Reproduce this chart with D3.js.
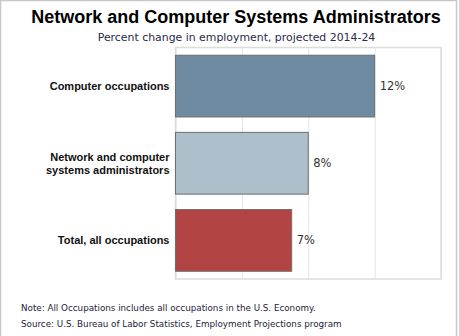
<!DOCTYPE html>
<html>
<head>
<meta charset="utf-8">
<script src="https://cdn.jsdelivr.net/npm/d3@7"></script>
<style>
  html, body { margin: 0; padding: 0; background: #fff; }
  svg { display: block; }
</style>
</head>
<body>
<svg id="chart" width="459" height="336"></svg>
<script>
// Projected employment change, 2014-24
const categories = ["Computer occupations", "Network and computer\nsystems administrators", "Total, all occupations"];
const values = [12, 8, 7];
const barColors = ["#6f8ba2", "#adbfcb", "#b34444"];
const tickValues = [0, 4, 8, 12, 16];

const svg = d3.select("#chart");
const W = 459, H = 336;
const margin = { left: 175.5, right: 18, top: 47.5, bottom: 57 };

// outer frame
svg.append("rect")
  .attr("x", 0.5).attr("y", 0.5)
  .attr("width", 456).attr("height", H + 5)
  .attr("fill", "none").attr("stroke", "#c8c8c8").attr("stroke-width", 1.5);

const x = d3.scaleLinear().domain([0, 16]).range([margin.left, W - margin.right]);
const y = d3.scaleBand().domain(categories).range([margin.top, H - margin.bottom])
  .paddingInner(0.2).paddingOuter(0.1);

// plot frame and vertical gridlines
svg.append("g")
  .attr("transform", `translate(0,${H - margin.bottom})`)
  .call(d3.axisBottom(x).tickValues(tickValues).tickSize(-(H - margin.bottom - margin.top)).tickFormat(""))
  .call(g => g.select(".domain").remove())
  .call(g => g.selectAll(".tick line").attr("stroke", "#e4e4e4"));

svg.append("rect")
  .attr("x", x(0)).attr("y", margin.top)
  .attr("width", x(16) - x(0)).attr("height", H - margin.bottom - margin.top)
  .attr("fill", "none").attr("stroke", "#dcdcdc").attr("stroke-width", 1.5);

// bars
svg.append("g").selectAll("rect")
  .data(values)
  .join("rect")
  .attr("x", x(0))
  .attr("y", (d, i) => y(categories[i]))
  .attr("width", d => x(d) - x(0))
  .attr("height", y.bandwidth())
  .attr("fill", (d, i) => barColors[i])
  .attr("stroke", "#6e6e6e")
  .attr("stroke-width", 1);

// value labels
svg.append("g").selectAll("text")
  .data(values)
  .join("text")
  .attr("x", d => x(d) + 5)
  .attr("y", (d, i) => y(categories[i]) + y.bandwidth() / 2 + 4)
  .attr("font-family", "'DejaVu Sans', Verdana, sans-serif")
  .attr("font-size", "11.5px")
  .attr("fill", "#333")
  .text(d => d + "%");

// category labels
const catG = svg.append("g");
categories.forEach(c => {
  const lines = c.split("\n");
  const cy = y(c) + y.bandwidth() / 2;
  const lh = 13;
  const t = catG.append("text")
    .attr("text-anchor", "end")
    .attr("font-family", "'Liberation Sans', Arial, sans-serif")
    .attr("font-weight", "bold")
    .attr("font-size", "11px")
    .attr("fill", "#111");
  lines.forEach((ln, j) => {
    t.append("tspan")
      .attr("x", 169.5)
      .attr("y", cy + 4 + (j - (lines.length - 1) / 2) * lh)
      .text(ln);
  });
});

// titles
svg.append("text")
  .attr("x", 236).attr("y", 23)
  .attr("text-anchor", "middle")
  .attr("font-family", "'Liberation Sans', Arial, sans-serif")
  .attr("font-weight", "bold")
  .attr("font-size", "18px")
  .attr("fill", "#000")
  .text("Network and Computer Systems Administrators");

svg.append("text")
  .attr("x", 236.5).attr("y", 41)
  .attr("text-anchor", "middle")
  .attr("font-family", "'DejaVu Sans', Verdana, sans-serif")
  .attr("font-size", "10.9px")
  .attr("fill", "#2a2a48")
  .text("Percent change in employment, projected 2014-24");

// notes
const notes = [
  "Note: All Occupations includes all occupations in the U.S. Economy.",
  "Source: U.S. Bureau of Labor Statistics, Employment Projections program"
];
svg.append("g").selectAll("text")
  .data(notes)
  .join("text")
  .attr("x", 21)
  .attr("y", (d, i) => 311 + i * 16)
  .attr("font-family", "'DejaVu Sans', Verdana, sans-serif")
  .attr("font-size", "8.75px")
  .attr("fill", "#22223a")
  .text(d => d);
</script>
</body>
</html>
